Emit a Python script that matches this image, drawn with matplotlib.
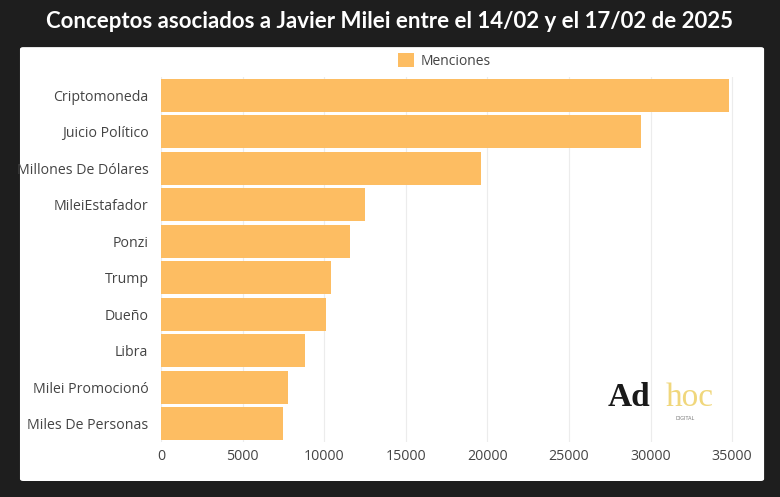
import matplotlib.pyplot as plt
from matplotlib.patches import FancyBboxPatch, Patch

# data
categories = ["Criptomoneda", "Juicio Político", "Millones De Dólares", "MileiEstafador",
              "Ponzi", "Trump", "Dueño", "Libra", "Milei Promocionó", "Miles De Personas"]
menciones = [34800, 29400, 19600, 12500, 11600, 10400, 10100, 8800, 7800, 7500]
xticks = [0, 5000, 10000, 15000, 20000, 25000, 30000, 35000]

bar_color = "#fdbd62"
bg_color = "#1e1e1e"
text_color = "#444444"

fig = plt.figure(figsize=(7.8, 4.97), dpi=100)
fig.patch.set_facecolor(bg_color)

# white panel
panel = FancyBboxPatch((0.0256, 0.0322), 0.954, 0.873, boxstyle="round,pad=0,rounding_size=0.004",
                       transform=fig.transFigure, facecolor="white", edgecolor="none", zorder=-5)
fig.patches.append(panel)

fig.text(0.5, 0.956, "Conceptos asociados a Javier Milei entre el 14/02 y el 17/02 de 2025",
         ha="center", va="center", color="white", fontsize=16, fontweight="bold", family="Lato")

ax = fig.add_axes([0.2064, 0.1107, 0.7532, 0.7344], zorder=2)
ax.set_facecolor("none")
y = list(range(len(categories)))
ax.barh(y, menciones, height=0.9, color=bar_color, zorder=2, label="Menciones")
ax.set_ylim(len(categories) - 0.5, -0.5)
ax.set_xlim(0, 36000)
ax.set_yticks(y)
ax.set_yticklabels(categories)
ax.set_xticks(xticks)
ax.set_xticklabels([str(t) for t in xticks])
ax.grid(axis="x", color="#ececec", linewidth=0.8, zorder=0)
for s in ax.spines.values():
    s.set_visible(False)
ax.tick_params(length=0, labelsize=10.2, labelcolor=text_color)
ax.tick_params(axis="y", pad=9)
ax.tick_params(axis="x", pad=5)
for lab in ax.get_xticklabels() + ax.get_yticklabels():
    lab.set_family("Open Sans")

fig.legend(handles=[Patch(facecolor=bar_color, label="Menciones")], loc="center",
           bbox_to_anchor=(0.57, 0.877), frameon=False, prop={"family": "Open Sans", "size": 10},
           labelcolor=text_color, handlelength=1.1, handleheight=1.1, handletextpad=0.5)

# logo
fig.text(0.779, 0.2, "Ad", family="Liberation Serif", fontsize=24, fontweight="bold",
         color="#1a1a1a", ha="left", va="center", zorder=5)
fig.text(0.853, 0.2, "hoc", family="Liberation Serif", fontsize=24, color="#f0d77c",
         ha="left", va="center", zorder=5)
fig.text(0.866, 0.158, "DIGITAL", fontsize=3.5, color="#777777", ha="left", va="center", zorder=5)

fig.savefig("out.png", dpi=100, facecolor=bg_color)
